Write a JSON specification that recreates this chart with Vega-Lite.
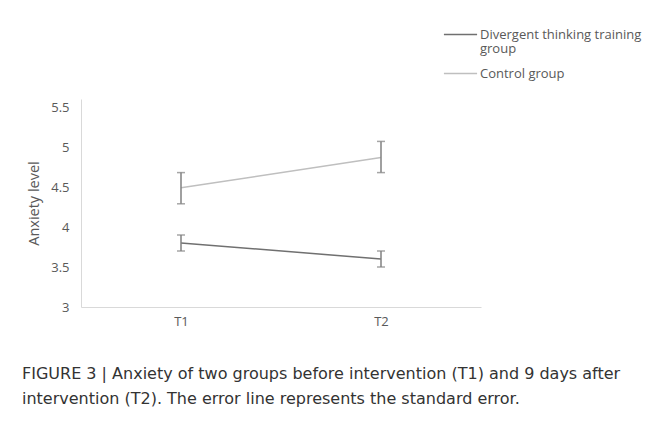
{
  "$schema": "https://vega.github.io/schema/vega-lite/v6.json",
  "width": 400,
  "height": 208,
  "autosize": "none",
  "padding": {"left": 81, "top": 99, "right": 176, "bottom": 116},
  "background": "white",
  "data": {
    "values": [
      {"group": "Divergent thinking training group", "time": "T1", "mean": 3.80, "lower": 3.70, "upper": 3.90},
      {"group": "Divergent thinking training group", "time": "T2", "mean": 3.60, "lower": 3.50, "upper": 3.70},
      {"group": "Control group", "time": "T1", "mean": 4.49, "lower": 4.29, "upper": 4.68},
      {"group": "Control group", "time": "T2", "mean": 4.87, "lower": 4.68, "upper": 5.07}
    ]
  },
  "title": {
    "text": ["FIGURE 3 | Anxiety of two groups before intervention (T1) and 9 days after", "intervention (T2). The error line represents the standard error."],
    "orient": "bottom",
    "anchor": "start",
    "frame": "group",
    "dx": -59,
    "offset": 38,
    "font": "DejaVu Sans",
    "fontSize": 16,
    "fontWeight": "normal",
    "color": "#333333",
    "lineHeight": 25
  },
  "config": {
    "view": {"stroke": null},
    "font": "Open Sans",
    "style": {"guide-label": {"lineHeight": 14.5}},
    "axis": {
      "grid": false,
      "ticks": false,
      "domainColor": "#d9d9d9",
      "domainWidth": 1,
      "labelColor": "#595959",
      "titleColor": "#595959",
      "titleFontWeight": "normal"
    }
  },
  "encoding": {
    "x": {
      "field": "time",
      "type": "ordinal",
      "scale": {"type": "point", "padding": 0.5},
      "axis": {"title": null, "labelAngle": 0, "labelPadding": 8, "labelFont": "Open Sans", "labelFontSize": 13}
    }
  },
  "layer": [
    {
      "mark": {"type": "line", "strokeWidth": 1.5},
      "encoding": {
        "y": {
          "field": "mean",
          "type": "quantitative",
          "scale": {"domain": [3, 5.5]},
          "axis": {"title": "Anxiety level", "values": [3, 3.5, 4, 4.5, 5, 5.5], "format": "~g", "labelPadding": 12, "titlePadding": 9, "labelFont": "Open Sans", "labelFontSize": 13, "titleFont": "Open Sans", "titleFontSize": 14.5}
        },
        "color": {
          "field": "group",
          "type": "nominal",
          "scale": {"domain": ["Divergent thinking training group", "Control group"], "range": ["#707070", "#bfbfbf"]},
          "legend": {
            "title": null,
            "orient": "none",
            "legendX": 362,
            "legendY": -82,
            "symbolType": "stroke",
            "symbolSize": 1100,
            "symbolStrokeWidth": 1.5,
            "labelFont": "Open Sans",
            "labelFontSize": 13,
            "labelColor": "#595959",
            "labelOffset": 2,
            "labelLimit": 300,
            "rowPadding": -3,
            "labelExpr": "datum.label == 'Divergent thinking training group' ? ['Divergent thinking training', 'group'] : datum.label"
          }
        }
      }
    },
    {
      "mark": {"type": "rule", "color": "#808080", "strokeWidth": 1.5},
      "encoding": {
        "y": {"field": "lower", "type": "quantitative"},
        "y2": {"field": "upper"}
      }
    },
    {
      "mark": {"type": "tick", "color": "#808080", "size": 8, "thickness": 1.5},
      "encoding": {"y": {"field": "lower", "type": "quantitative"}}
    },
    {
      "mark": {"type": "tick", "color": "#808080", "size": 8, "thickness": 1.5},
      "encoding": {"y": {"field": "upper", "type": "quantitative"}}
    }
  ]
}
